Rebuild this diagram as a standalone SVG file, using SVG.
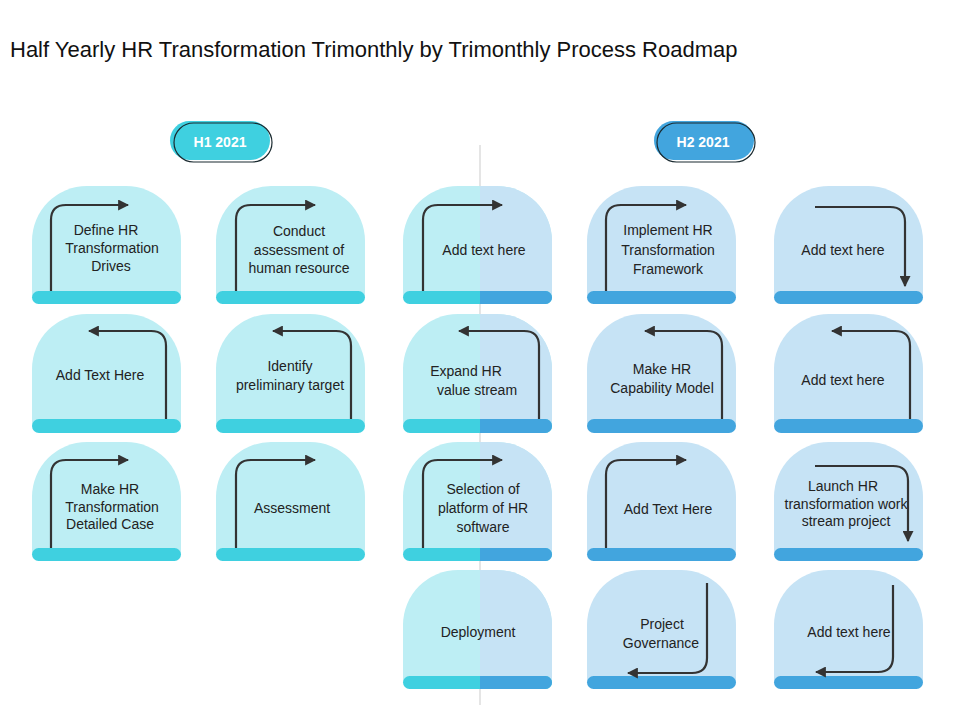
<svg xmlns="http://www.w3.org/2000/svg" width="960" height="720" viewBox="0 0 960 720">
<style>
text{font-family:"Liberation Sans",Arial,sans-serif;font-size:14px;fill:#222;text-anchor:middle}
.a{fill:none;stroke:#333;stroke-width:2.2;marker-end:url(#m)}
.c1{fill:#BDEEF4}.b1{fill:#3FD0E0}.c2{fill:#C6E3F5}.b2{fill:#42A5DE}
</style>
<defs>
<marker id="m" viewBox="0 0 10 10" refX="9" refY="5" markerWidth="5" markerHeight="5" orient="auto" markerUnits="strokeWidth"><path d="M0 0L10 5L0 10Z" fill="#333"/></marker>
<clipPath id="r"><rect x="480" y="0" width="480" height="720"/></clipPath>
<path id="k" d="M0 7V55A55 55 0 0 1 55 0H94A55 55 0 0 1 149 55V7Z"/>
</defs>
<rect width="960" height="720" fill="#fff"/>
<text x="10" y="57" style="font-size:22px;text-anchor:start;fill:#111">Half Yearly HR Transformation Trimonthly by Trimonthly Process Roadmap</text>
<line x1="480" y1="145" x2="480" y2="705" stroke="#ddd" stroke-width="1.5"/>
<g id="h1"><rect x="170" y="121" width="100" height="39" rx="19.5" fill="#3FD0E0"/><rect x="174" y="123" width="98" height="39" rx="19.5" fill="none" stroke="#1a2a30" stroke-width="1.2"/><text x="220" y="147" style="fill:#fff;font-weight:bold;font-size:14px">H1 2021</text></g>
<g id="h2"><rect x="654" y="121" width="100" height="39" rx="19.5" fill="#42A5DE"/><rect x="657" y="123" width="98" height="39" rx="19.5" fill="none" stroke="#1a2a30" stroke-width="1.2"/><text x="703" y="147" style="fill:#fff;font-weight:bold;font-size:14px">H2 2021</text></g>
<g id="cards">
<!-- col1 -->
<g id="n1"><use href="#k" x="32" y="186" class="c1" transform="translate(32 186)" style="display:none"/><path transform="translate(32 186)" d="M0 112V55A55 55 0 0 1 55 0H94A55 55 0 0 1 149 55V112Z" class="c1"/><rect x="32" y="291" width="149" height="13" rx="6.5" class="b1"/><text x="106" y="235">Define HR</text><text x="112" y="253">Transformation</text><text x="111" y="271">Drives</text></g>
<g id="n2"><path transform="translate(32 314)" d="M0 112V55A55 55 0 0 1 55 0H94A55 55 0 0 1 149 55V112Z" class="c1"/><rect x="32" y="419" width="149" height="14" rx="7" class="b1"/><text x="100" y="380">Add Text Here</text></g>
<g id="n3"><path transform="translate(32 442)" d="M0 112V55A55 55 0 0 1 55 0H94A55 55 0 0 1 149 55V112Z" class="c1"/><rect x="32" y="548" width="149" height="13" rx="6.5" class="b1"/><text x="110" y="494">Make HR</text><text x="112" y="512">Transformation</text><text x="110" y="529">Detailed Case</text></g>
<!-- col2 -->
<g id="n4"><path transform="translate(216 186)" d="M0 112V55A55 55 0 0 1 55 0H94A55 55 0 0 1 149 55V112Z" class="c1"/><rect x="216" y="291" width="149" height="13" rx="6.5" class="b1"/><text x="299" y="236">Conduct</text><text x="299" y="255">assessment of</text><text x="299" y="273">human resource</text></g>
<g id="n5"><path transform="translate(216 314)" d="M0 112V55A55 55 0 0 1 55 0H94A55 55 0 0 1 149 55V112Z" class="c1"/><rect x="216" y="419" width="149" height="14" rx="7" class="b1"/><text x="290" y="371">Identify</text><text x="290" y="390">preliminary  target</text></g>
<g id="n6"><path transform="translate(216 442)" d="M0 112V55A55 55 0 0 1 55 0H94A55 55 0 0 1 149 55V112Z" class="c1"/><rect x="216" y="548" width="149" height="13" rx="6.5" class="b1"/><text x="292" y="513">Assessment</text></g>
<!-- col3 -->
<g id="n7"><path transform="translate(403 186)" d="M0 112V55A55 55 0 0 1 55 0H94A55 55 0 0 1 149 55V112Z" class="c1"/><path clip-path="url(#r)" d="M403 298V241A55 55 0 0 1 458 186H497A55 55 0 0 1 552 241V298Z" class="c2"/><rect x="403" y="291" width="149" height="13" rx="6.5" class="b1"/><path clip-path="url(#r)" d="M403 291H545.5A6.5 6.5 0 0 1 545.5 304H403Z" class="b2"/><text x="484" y="255">Add text here</text></g>
<g id="n8"><path transform="translate(403 314)" d="M0 112V55A55 55 0 0 1 55 0H94A55 55 0 0 1 149 55V112Z" class="c1"/><path clip-path="url(#r)" d="M403 426V369A55 55 0 0 1 458 314H497A55 55 0 0 1 552 369V426Z" class="c2"/><rect x="403" y="419" width="149" height="14" rx="7" class="b1"/><path clip-path="url(#r)" d="M403 419H545A7 7 0 0 1 545 433H403Z" class="b2"/><text x="466" y="376">Expand HR</text><text x="477" y="395">value stream</text></g>
<g id="n9"><path transform="translate(403 442)" d="M0 112V55A55 55 0 0 1 55 0H94A55 55 0 0 1 149 55V112Z" class="c1"/><path clip-path="url(#r)" d="M403 554V497A55 55 0 0 1 458 442H497A55 55 0 0 1 552 497V554Z" class="c2"/><rect x="403" y="548" width="149" height="13" rx="6.5" class="b1"/><path clip-path="url(#r)" d="M403 548H545.5A6.5 6.5 0 0 1 545.5 561H403Z" class="b2"/><text x="483" y="494">Selection of</text><text x="483" y="513">platform of HR</text><text x="483" y="532">software</text></g>
<g id="n10"><path transform="translate(403 570)" d="M0 112V55A55 55 0 0 1 55 0H94A55 55 0 0 1 149 55V112Z" class="c1"/><path clip-path="url(#r)" d="M403 682V625A55 55 0 0 1 458 570H497A55 55 0 0 1 552 625V682Z" class="c2"/><rect x="403" y="676" width="149" height="13" rx="6.5" class="b1"/><path clip-path="url(#r)" d="M403 676H545.5A6.5 6.5 0 0 1 545.5 689H403Z" class="b2"/><text x="478" y="637">Deployment</text></g>
<!-- col4 -->
<g id="n11"><path transform="translate(587 186)" d="M0 112V55A55 55 0 0 1 55 0H94A55 55 0 0 1 149 55V112Z" class="c2"/><rect x="587" y="291" width="149" height="13" rx="6.5" class="b2"/><text x="668" y="235">Implement HR</text><text x="668" y="255">Transformation</text><text x="668" y="274">Framework</text></g>
<g id="n12"><path transform="translate(587 314)" d="M0 112V55A55 55 0 0 1 55 0H94A55 55 0 0 1 149 55V112Z" class="c2"/><rect x="587" y="419" width="149" height="14" rx="7" class="b2"/><text x="662" y="374">Make HR</text><text x="662" y="393">Capability  Model</text></g>
<g id="n13"><path transform="translate(587 442)" d="M0 112V55A55 55 0 0 1 55 0H94A55 55 0 0 1 149 55V112Z" class="c2"/><rect x="587" y="548" width="149" height="13" rx="6.5" class="b2"/><text x="668" y="514">Add Text Here</text></g>
<g id="n14"><path transform="translate(587 570)" d="M0 112V55A55 55 0 0 1 55 0H94A55 55 0 0 1 149 55V112Z" class="c2"/><rect x="587" y="676" width="149" height="13" rx="6.5" class="b2"/><text x="662" y="629">Project</text><text x="661" y="648">Governance</text></g>
<!-- col5 -->
<g id="n15"><path transform="translate(774 186)" d="M0 112V55A55 55 0 0 1 55 0H94A55 55 0 0 1 149 55V112Z" class="c2"/><rect x="774" y="291" width="149" height="13" rx="6.5" class="b2"/><text x="843" y="255">Add text here</text></g>
<g id="n16"><path transform="translate(774 314)" d="M0 112V55A55 55 0 0 1 55 0H94A55 55 0 0 1 149 55V112Z" class="c2"/><rect x="774" y="419" width="149" height="14" rx="7" class="b2"/><text x="843" y="385">Add text here</text></g>
<g id="n17"><path transform="translate(774 442)" d="M0 112V55A55 55 0 0 1 55 0H94A55 55 0 0 1 149 55V112Z" class="c2"/><rect x="774" y="548" width="149" height="13" rx="6.5" class="b2"/><text x="843" y="491">Launch HR</text><text x="846" y="509">transformation work</text><text x="846" y="526">stream project</text></g>
<g id="n18"><path transform="translate(774 570)" d="M0 112V55A55 55 0 0 1 55 0H94A55 55 0 0 1 149 55V112Z" class="c2"/><rect x="774" y="676" width="149" height="13" rx="6.5" class="b2"/><text x="849" y="637">Add text here</text></g>
</g>
<g id="connectors">
<path class="a" d="M51 291V220Q51 205 66 205H128"/>
<path class="a" d="M166 419V346Q166 331 151 331H89"/>
<path class="a" d="M51 548V475Q51 460 66 460H128"/>
<path class="a" d="M236 291V220Q236 205 251 205H315"/>
<path class="a" d="M351 419V346Q351 331 336 331H273"/>
<path class="a" d="M236 548V475Q236 460 251 460H315"/>
<path class="a" d="M423 291V220Q423 205 438 205H502"/>
<path class="a" d="M539 419V346Q539 331 524 331H459"/>
<path class="a" d="M423 548V475Q423 460 438 460H502"/>
<path class="a" d="M606 291V220Q606 205 621 205H686"/>
<path class="a" d="M722 419V346Q722 331 707 331H645"/>
<path class="a" d="M606 548V475Q606 460 621 460H686"/>
<path class="a" d="M707 583V658Q707 673 692 673H628"/>
<path class="a" d="M815 207H890Q905 207 905 222V286"/>
<path class="a" d="M910 419V346Q910 331 895 331H832"/>
<path class="a" d="M815 466H893Q908 466 908 481V541"/>
<path class="a" d="M893 585V657Q893 672 878 672H816"/>
</g>
</svg>
